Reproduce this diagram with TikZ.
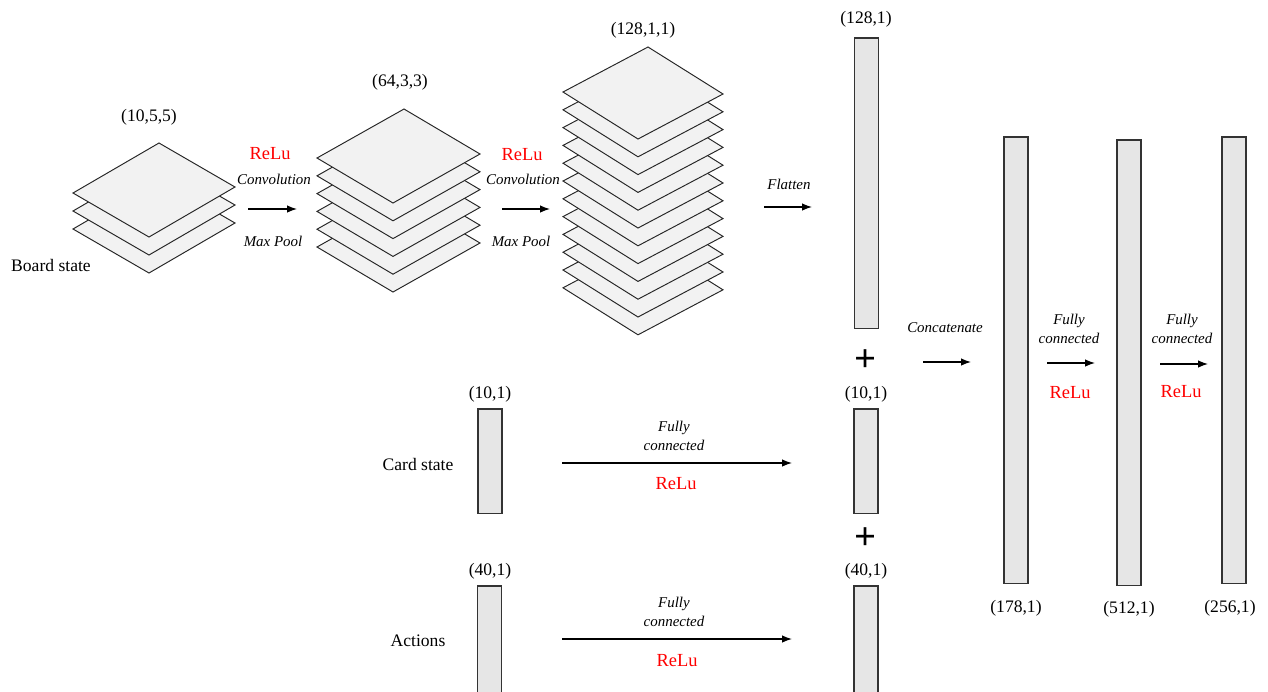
\documentclass[tikz,border=0pt]{standalone}
\usepackage{fontspec}
\setmainfont{Liberation Serif}
\usetikzlibrary{arrows.meta}
\definecolor{layerfill}{HTML}{F2F2F2}
\definecolor{barfill}{HTML}{E6E6E6}
\definecolor{bardraw}{HTML}{333333}
\definecolor{relured}{HTML}{FF0000}
\newcommand\mylayer[6]{\filldraw[layer] (#1,#2) -- ++(#3,#4) -- ++(#5,#6) -- ++(-#3,-#4) -- cycle;}
\tikzset{
  layer/.style={fill=layerfill,draw=black!85,line width=0.55pt,line join=miter},
  bar/.style={draw=bardraw,fill=barfill,line width=0.85pt,minimum width=0.48cm,inner sep=0pt,anchor=north},
  lbl/.style={font=\fontsize{10}{12}\selectfont,inner sep=1pt},
  ital/.style={font=\fontsize{8.5}{10.5}\selectfont\itshape,align=center,inner sep=1pt},
  relu/.style={font=\fontsize{10.5}{12}\selectfont,text=relured,inner sep=1pt},
  plus/.style={font=\fontsize{22}{22}\selectfont\bfseries,inner sep=0pt},
  arr/.style={-{Latex[length=2mm,width=1.5mm]},line width=0.7pt},
}
\begin{document}
\begin{tikzpicture}[x=0.02cm,y=-0.02cm]
\useasboundingbox (0,0) rectangle (1268,691);
% stacks
\foreach \i in {2,1,0} {\mylayer{73}{193+18*\i}{86}{-50}{76}{44}}
\foreach \i in {5,4,3,2,1,0} {\mylayer{317}{158+17.8*\i}{87}{-49}{76}{45}}
\foreach \i in {11,10,9,8,7,6,5,4,3,2,1,0} {\mylayer{563}{92+17.8*\i}{85}{-45}{75}{47}}
% stack labels
\node[lbl] (s1) at (149,117) {(10,5,5)};
\node[lbl] (s2) at (400,82) {(64,3,3)};
\node[lbl] (s3) at (643,30) {(128,1,1)};
\node[lbl] (board) at (51,265) {Board state};
% conv 1
\node[relu] (r1) at (270,154) {ReLu};
\node[ital] (c1) at (274,179) {Convolution};
\node[ital] (m1) at (273,241) {Max Pool};
\coordinate (a1s) at (248,209); \coordinate (a1e) at (297,209);
\draw[arr] (a1s) -- (a1e);
% conv 2
\node[relu] (r2) at (522,155) {ReLu};
\node[ital] (c2) at (523,179) {Convolution};
\node[ital] (m2) at (521,241) {Max Pool};
\coordinate (a2s) at (502,209); \coordinate (a2e) at (550,209);
\draw[arr] (a2s) -- (a2e);
% flatten
\node[ital] (fl) at (789,184) {Flatten};
\coordinate (a3s) at (764,207); \coordinate (a3e) at (812,207);
\draw[arr] (a3s) -- (a3e);
% bars
\node[bar,minimum height=5.82cm] (b128) at (866.5,37) {};
\node[lbl] (l128) at (866,19) {(128,1)};
\node[plus] (p1) at (866,361) {+};
\node[bar,minimum height=2.1cm] (b10r) at (866,408) {};
\node[lbl] (l10r) at (866,394) {(10,1)};
\node[plus] (p2) at (866,539) {+};
\node[bar,minimum height=2.3cm] (b40r) at (866,585) {};
\node[lbl] (l40r) at (866,571) {(40,1)};
\node[bar,minimum height=2.1cm] (b10l) at (490,408) {};
\node[lbl] (l10l) at (490,394) {(10,1)};
\node[bar,minimum height=2.3cm] (b40l) at (489.5,585) {};
\node[lbl] (l40l) at (490,571) {(40,1)};
\node[lbl] (card) at (418,464) {Card state};
\node[lbl] (act) at (418,641) {Actions};
% FC from card
\node[ital] (fc1) at (674,436) {Fully\\connected};
\node[relu] (rf1) at (676,484) {ReLu};
\coordinate (a4s) at (562,463); \coordinate (a4e) at (792,463);
\draw[arr] (a4s) -- (a4e);
% FC from actions
\node[ital] (fc2) at (674,612) {Fully\\connected};
\node[relu] (rf2) at (677,661) {ReLu};
\coordinate (a5s) at (562,639); \coordinate (a5e) at (792,639);
\draw[arr] (a5s) -- (a5e);
% concatenate
\node[ital] (cc) at (945,328) {Concatenate};
\coordinate (a6s) at (923,362); \coordinate (a6e) at (971,362);
\draw[arr] (a6s) -- (a6e);
\node[bar,minimum height=8.94cm] (b178) at (1016,136) {};
\node[lbl] (l178) at (1016,608) {(178,1)};
\node[ital] (fc3) at (1069,329) {Fully\\connected};
\node[relu] (rf3) at (1070,393) {ReLu};
\coordinate (a7s) at (1047,363); \coordinate (a7e) at (1095,363);
\draw[arr] (a7s) -- (a7e);
\node[bar,minimum height=8.92cm] (b512) at (1129,139) {};
\node[lbl] (l512) at (1129,609) {(512,1)};
\node[ital] (fc4) at (1182,329) {Fully\\connected};
\node[relu] (rf4) at (1181,392) {ReLu};
\coordinate (a8s) at (1160,364); \coordinate (a8e) at (1208,364);
\draw[arr] (a8s) -- (a8e);
\node[bar,minimum height=8.94cm] (b256) at (1234,136) {};
\node[lbl] (l256) at (1230,608) {(256,1)};
\end{tikzpicture}
\end{document}
